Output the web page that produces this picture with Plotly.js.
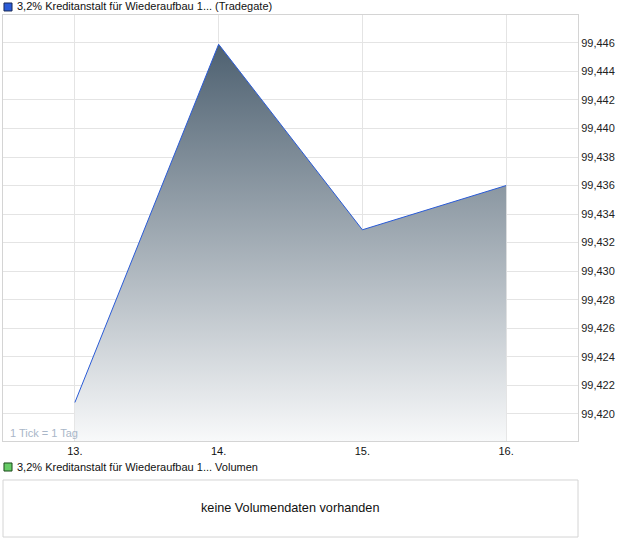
<!DOCTYPE html>
<html>
<head>
<meta charset="utf-8">
<script src="https://cdn.plot.ly/plotly-3.0.1.min.js"></script>
<style>html,body{margin:0;padding:0;background:#fff;}#chart{width:620px;height:546px;}</style>
</head>
<body>
<div id="chart"></div>
<script>
var days = [13, 14, 15, 16];
var dayLabels = ["13.", "14.", "15.", "16."];
var prices = [99.4208, 99.4459, 99.4329, 99.4360];
var seriesName = "3,2% Kreditanstalt für Wiederaufbau 1... (Tradegate)";
var volumeName = "3,2% Kreditanstalt für Wiederaufbau 1... Volumen";
var noVolumeText = "keine Volumendaten vorhanden";
var tickNote = "1 Tick = 1 Tag";

var yMin = 99.4181, yMax = 99.44795;

var trace = {
  x: days, y: prices, type: 'scatter', mode: 'lines',
  line: {color: '#2a5bd7', width: 1},
  fill: 'tozeroy',
  fillgradient: {type: 'vertical', start: yMin, stop: 99.446,
    colorscale: [[0, '#f8f9fa'], [1, '#4d6070']]},
  hoverinfo: 'skip', showlegend: false
};

var fontFam = 'Liberation Sans, Arial, sans-serif';
var layout = {
  width: 620, height: 546,
  margin: {l: 3, r: 42, t: 15, b: 9},
  paper_bgcolor: '#fff', plot_bgcolor: '#fff',
  separators: ',.',
  font: {family: fontFam, size: 11, color: '#222'},
  showlegend: false,
  xaxis: {
    range: [12.5, 16.5], tickvals: days, ticktext: dayLabels,
    showgrid: true, gridcolor: '#e4e4e4', zeroline: false,
    showline: true, mirror: true, linecolor: '#d4d4d4', linewidth: 1,
    ticks: '', tickfont: {size: 11, color: '#111'}, fixedrange: true
  },
  yaxis: {
    domain: [0.1839, 1], side: 'right', range: [yMin, yMax],
    tick0: 99.420, dtick: 0.002, tickformat: '.3f',
    showgrid: true, gridcolor: '#e4e4e4', zeroline: false,
    showline: true, mirror: true, linecolor: '#d4d4d4', linewidth: 1,
    ticks: '', ticklen: 0, tickfont: {size: 11, color: '#222'}, fixedrange: true
  },
  shapes: [
    {type: 'rect', xref: 'paper', yref: 'paper', x0: 0, x1: 1, y0: 0, y1: 0.1092,
     line: {color: '#d4d4d4', width: 1}, fillcolor: 'rgba(0,0,0,0)'},
    {type: 'rect', xref: 'paper', yref: 'paper', x0: 0.0017, x1: 0.0157, y0: 1.0077, y1: 1.0230,
     line: {color: '#1a2a55', width: 1}, fillcolor: '#2a5bd7'},
    {type: 'rect', xref: 'paper', yref: 'paper', x0: 0.0017, x1: 0.0157, y0: 0.1264, y1: 0.1418,
     line: {color: '#1a4a1a', width: 1}, fillcolor: '#66cc66'}
  ],
  annotations: [
    {text: seriesName, xref: 'paper', yref: 'paper', x: 0.0209, y: 1.0172,
     xanchor: 'left', yanchor: 'middle', showarrow: false, font: {size: 11, color: '#111'}},
    {text: volumeName, xref: 'paper', yref: 'paper', x: 0.0209, y: 0.1341,
     xanchor: 'left', yanchor: 'middle', showarrow: false, font: {size: 11, color: '#111'}},
    {text: noVolumeText, xref: 'paper', yref: 'paper', x: 0.499, y: 0.0565,
     xanchor: 'center', yanchor: 'middle', showarrow: false, font: {size: 12.7, color: '#111'}},
    {text: tickNote, xref: 'paper', yref: 'paper', x: 0.0087, y: 0.199,
     xanchor: 'left', yanchor: 'middle', showarrow: false, font: {size: 11, color: '#a9b6c8'}}
  ]
};

Plotly.newPlot('chart', [trace], layout, {displayModeBar: false, staticPlot: true});
</script>
</body>
</html>
